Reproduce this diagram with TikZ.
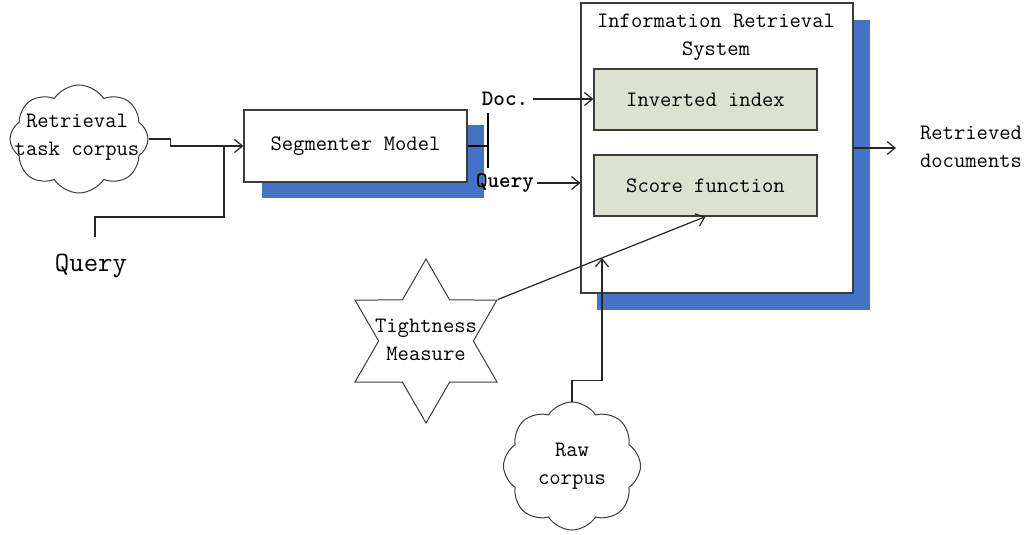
\documentclass[tikz,border=0pt]{standalone}
\usetikzlibrary{shapes.symbols,shapes.geometric,arrows.meta}
\definecolor{shadowblue}{RGB}{68,114,196}
\definecolor{boxfill}{RGB}{221,226,208}
\definecolor{linegray}{RGB}{60,60,60}
\begin{document}
\begin{tikzpicture}[x=1pt,y=-1pt,
  txt/.style={font=\fontsize{22}{28}\selectfont\ttfamily, text=black, align=center, inner sep=0pt},
  lbl/.style={font=\fontsize{22}{28}\selectfont\ttfamily\bfseries, text=black, inner sep=0pt},
  box/.style={draw=linegray, line width=1.2pt, rectangle, inner sep=0pt},
  shadowbox/.style={fill=shadowblue, rectangle, inner sep=0pt},
  inner/.style={box, fill=boxfill},
  cloudshape/.style={draw=linegray, line width=1pt, cloud, cloud puffs=8, cloud puff arc=115, cloud ignores aspect, inner sep=0pt},
  conn/.style={line width=1.2pt, draw=black!85},
  arr/.style={conn, -{Straight Barb[length=8pt,width=13pt]}},
]
\useasboundingbox (0,0) rectangle (1033,535);
\fill[white] (0,0) rectangle (1033,535);

% Retrieval task corpus cloud
\node[cloudshape, minimum width=138pt, minimum height=108pt] (rc) at (79,139) {};
\node[txt] (rct) at (77,137) {Retrieval\\task corpus};

% Query
\node[txt, font=\fontsize{28}{32}\selectfont\ttfamily] (q) at (91,266) {Query};
\coordinate (qs) at (95,237);
\coordinate (join) at (224,146);

% Segmenter
\node[shadowbox, minimum width=222pt, minimum height=73pt] (segsh) at (373,161.5) {};
\node[box, fill=white, minimum width=223pt, minimum height=72pt] (seg) at (355.5,146) {};
\node[txt] (segt) at (355.5,146) {Segmenter Model};

% IR system
\node[shadowbox, minimum width=273pt, minimum height=290pt] (irsh) at (733.5,165) {};
\node[box, fill=white, minimum width=272pt, minimum height=290pt] (irs) at (717,148) {};
\node[txt] (irt) at (716,37) {Information Retrieval\\System};
\node[inner, minimum width=223pt, minimum height=61pt] (inv) at (705.5,99.5) {};
\node[txt] (invt) at (705.5,99.5) {Inverted index};
\node[inner, minimum width=223pt, minimum height=61pt] (sf) at (705.5,185.5) {};
\node[txt] (sft) at (705.5,185.5) {Score function};

% Doc / Query labels
\coordinate (bar) at (488,146);
\coordinate (bartop) at (488,113);
\coordinate (barbot) at (488,168);
\node[lbl] (doc) at (505,99) {Doc.};
\node[lbl] (q2) at (505,183) {Query};

% Retrieved documents
\node[txt] (ret) at (971,147) {Retrieved\\documents};
\coordinate (retend) at (896,148);

% Tightness star
\node[draw=linegray, line width=1pt, star, star points=6, star point ratio=1.732, minimum size=164pt, inner sep=0pt] (star) at (426,341) {};
\node[txt] (start) at (426,340) {Tightness\\Measure};

% Raw corpus
\node[cloudshape, minimum width=137pt, minimum height=128pt] (raw) at (572,466) {};
\node[txt] (rawt) at (572,466) {Raw\\corpus};
\coordinate (hit) at (602,258);

% connectors
\draw[arr] (rc.east) -- ++(22,0) |- (seg.west);
\draw[conn] (qs) -- ++(0,-20) -| (join);
\draw[line width=2.2pt] (seg.east) -- (bar);
\draw[line width=1.6pt] (bartop) -- (barbot);
\draw[arr] ([xshift=5pt]doc.east) -- (inv.west |- doc);
\draw[arr] ([xshift=3pt]q2.east) -- (irs.west |- q2);
\draw[arr] (irs.east |- retend) -- (retend);
\draw[arr] (star.30) -- (sf.south);
\draw[arr] (raw.north) -- ++(0,-21) -| (hit);
\end{tikzpicture}
\end{document}
